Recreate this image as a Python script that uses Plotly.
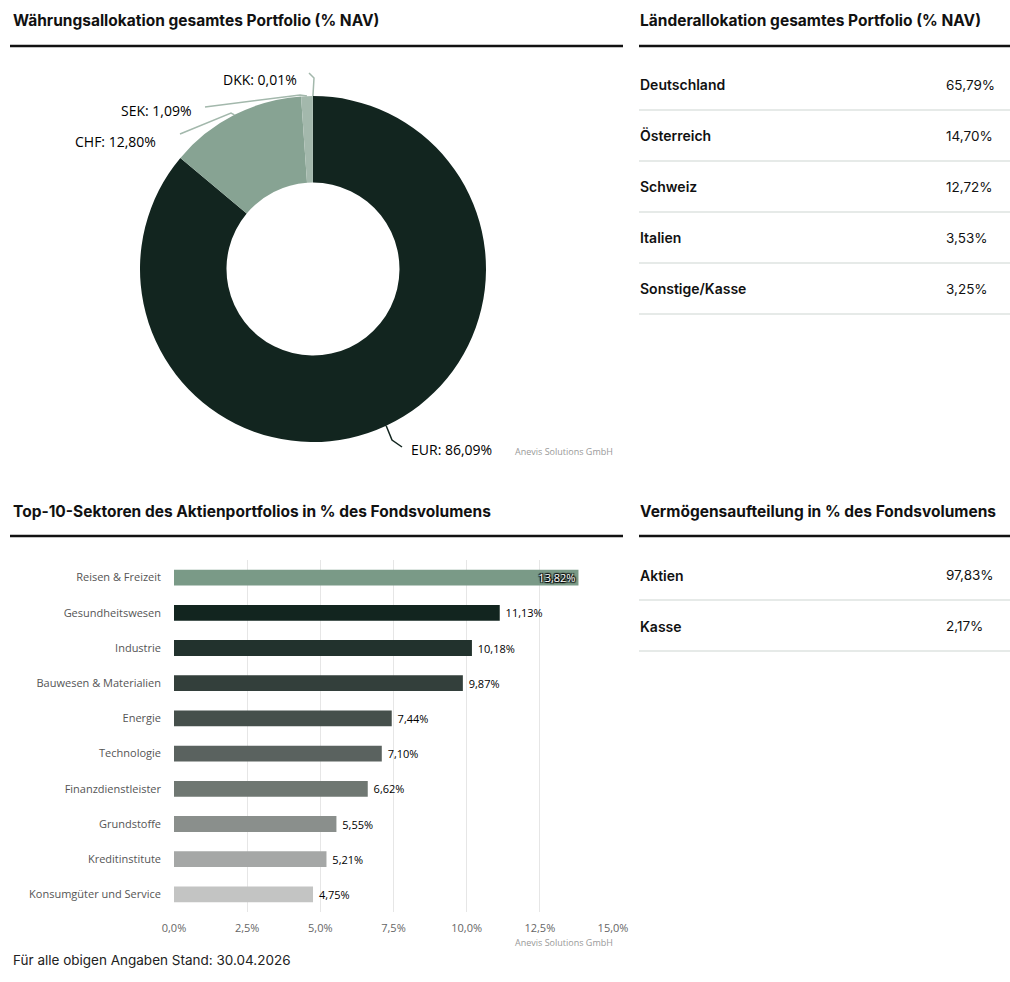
import math
import plotly.graph_objects as go

W, H = 1010, 982

# ---------------- data ----------------
currencies = ["EUR", "CHF", "SEK", "DKK"]
currency_values = [86.09, 12.80, 1.09, 0.01]
currency_colors = ["#12251f", "#87a393", "#a3b8ac", "#c3cfc8"]

countries = ["Deutschland", "Österreich", "Schweiz", "Italien", "Sonstige/Kasse"]
country_values = [65.79, 14.70, 12.72, 3.53, 3.25]

sectors = ["Reisen & Freizeit", "Gesundheitswesen", "Industrie", "Bauwesen & Materialien",
           "Energie", "Technologie", "Finanzdienstleister", "Grundstoffe",
           "Kreditinstitute", "Konsumgüter und Service"]
sector_values = [13.82, 11.13, 10.18, 9.87, 7.44, 7.10, 6.62, 5.55, 5.21, 4.75]
sector_colors = ["#7a9a87", "#12251f", "#22322d", "#333f3b", "#454f4b",
                 "#5a625f", "#6f7772", "#8a8f8c", "#a5a7a6", "#c3c4c3"]

assets = ["Aktien", "Kasse"]
asset_values = [97.83, 2.17]

x_ticks = [0, 2.5, 5, 7.5, 10, 12.5, 15]
x_tick_labels = ["0,0%", "2,5%", "5,0%", "7,5%", "10,0%", "12,5%", "15,0%"]


def de(v):
    return f"{v:.2f}".replace(".", ",") + "%"


def px(x):
    return x / W


def py(y):
    return 1 - y / H


SANS = "Inter, Roboto, sans-serif"
HEAD = dict(family=SANS, size=15.5, color="#111111", weight=700)
ROWL = dict(family=SANS, size=14, color="#111111", weight=600)
ROWV = dict(family=SANS, size=13.5, color="#111111")
CHART = "Open Sans, Roboto, sans-serif"

fig = go.Figure()

# ---------------- donut ----------------
cx, cy, R = 313, 269, 173
fig.add_trace(go.Pie(
    labels=currencies, values=currency_values, hole=0.5, sort=False,
    direction="clockwise", rotation=0, textinfo="none",
    marker=dict(colors=currency_colors, line=dict(width=0)),
    domain=dict(x=[px(cx - R), px(cx + R)], y=[py(cy + R), py(cy - R)]),
    showlegend=False, hoverinfo="label+percent",
))

# ---------------- bars ----------------
NB = "\u00a0"
fig.add_trace(go.Bar(
    y=sectors, x=sector_values, orientation="h",
    marker=dict(color=sector_colors, line=dict(width=0)),
    width=0.45,
    texttemplate=["%{x:.2f}%"] + [NB + "%{x:.2f}%"] * (len(sectors) - 1),
    textposition=["inside"] + ["outside"] * (len(sectors) - 1),
    insidetextanchor="end", constraintext="none",
    insidetextfont=dict(family=CHART, size=11, color="#ffffff",
                        shadow="1px 1px 1px #000, -1px -1px 1px #000, 1px -1px 1px #000, -1px 1px 1px #000"),
    outsidetextfont=dict(family=CHART, size=11, color="#000000"),
    cliponaxis=False, showlegend=False,
))

fig.update_layout(
    width=W, height=H, margin=dict(l=0, r=0, t=0, b=0),
    paper_bgcolor="white", plot_bgcolor="white",
    separators=",.",
    xaxis=dict(domain=[px(174), px(613)], range=[0, 15], tickvals=x_ticks,
               ticktext=x_tick_labels, showgrid=True, gridcolor="#e6e6e6",
               gridwidth=1, zeroline=False, showline=False, ticks="",
               ticklabelstandoff=8, automargin=False,
               tickfont=dict(family=CHART, size=11, color="#666666"), fixedrange=True),
    yaxis=dict(domain=[py(912), py(560)], autorange="reversed", showgrid=False,
               zeroline=False, showline=False, ticks="", ticklabelstandoff=12,
               automargin=False,
               tickfont=dict(family=CHART, size=11, color="#555555"), fixedrange=True),
)

shapes = []
annotations = []


def text(x, y, s, font, xanchor="left", yanchor="middle"):
    annotations.append(dict(x=px(x), y=py(y), xref="paper", yref="paper", text=s,
                            showarrow=False, xanchor=xanchor, yanchor=yanchor,
                            font=font, borderpad=0))


def hline(x0, x1, y, color, width):
    shapes.append(dict(type="line", xref="paper", yref="paper", x0=px(x0), x1=px(x1),
                       y0=py(y), y1=py(y), line=dict(color=color, width=width)))


# headings
text(12, 21, "Währungsallokation gesamtes Portfolio (% NAV)", HEAD)
hline(10, 623, 46, "#111111", 2.5)
text(639, 21, "Länderallokation gesamtes Portfolio (% NAV)", HEAD)
hline(639, 1010, 46, "#111111", 2.5)
text(12, 511, "Top-10-Sektoren des Aktienportfolios in % des Fondsvolumens", HEAD)
hline(10, 623, 536, "#111111", 2.5)
text(639, 511, "Vermögensaufteilung in % des Fondsvolumens", HEAD)
hline(639, 1010, 536, "#111111", 2.5)

# country table
for i, (c, v) in enumerate(zip(countries, country_values)):
    yc = 85 + 51 * i
    text(639, yc, c, ROWL)
    text(945, yc, de(v), ROWV)
    hline(639, 1010, yc + 25, "#cdd5d1", 1)

# asset table
for i, (c, v) in enumerate(zip(assets, asset_values)):
    yc = 575 + 51 * i
    text(639, yc, c, ROWL)
    text(945, yc, de(v), ROWV)
    hline(639, 1010, yc + 25, "#cdd5d1", 1)

# donut labels + connectors
label_pos = {"EUR": (410, 449, "left"), "CHF": (157, 142, "right"),
             "SEK": (193, 111, "right"), "DKK": (298, 80, "right")}
elbows = {"EUR": [(392, 440), (402, 447)], "CHF": [(231, 113), (180, 134)],
          "SEK": [(300, 95), (205, 107)], "DKK": [(314, 78), (309, 73)]}
total = sum(currency_values)
cum = 0
for name, v, col in zip(currencies, currency_values, currency_colors):
    theta = 2 * math.pi * (cum + v / 2) / total
    cum += v
    sx, sy = cx + R * math.sin(theta), cy - R * math.cos(theta)
    pts = [(sx, sy)] + elbows[name]
    path = "M " + " L ".join(f"{px(a):.5f} {py(b):.5f}" for a, b in pts)
    lc = "#12251f" if name == "EUR" else "#a3b8ac"
    shapes.append(dict(type="path", xref="paper", yref="paper", path=path,
                       line=dict(color=lc, width=1.5)))
    lx, ly, anc = label_pos[name]
    text(lx, ly, f"{name}: {de(v)}", dict(family=CHART, size=14, color="#000000"), xanchor=anc)

# credits + footer
text(614, 451, "Anevis Solutions GmbH", dict(family=CHART, size=9, color="#999999"), xanchor="right")
text(614, 942, "Anevis Solutions GmbH", dict(family=CHART, size=9, color="#999999"), xanchor="right")
text(12, 960, "Für alle obigen Angaben Stand: 30.04.2026",
     dict(family=SANS, size=13.5, color="#222222"))

fig.update_layout(shapes=shapes, annotations=annotations)

post = ("document.documentElement.style.margin='0';document.body.style.margin='0';"
        "document.body.style.padding='0';document.body.style.overflow='hidden';"
        "var gd=document.getElementById('{plot_id}');"
        "setTimeout(function(){Plotly.relayout(gd,{paper_bgcolor:'white'});},50);")
fig.write_html("out.html", config={"displayModeBar": False}, post_script=post)
